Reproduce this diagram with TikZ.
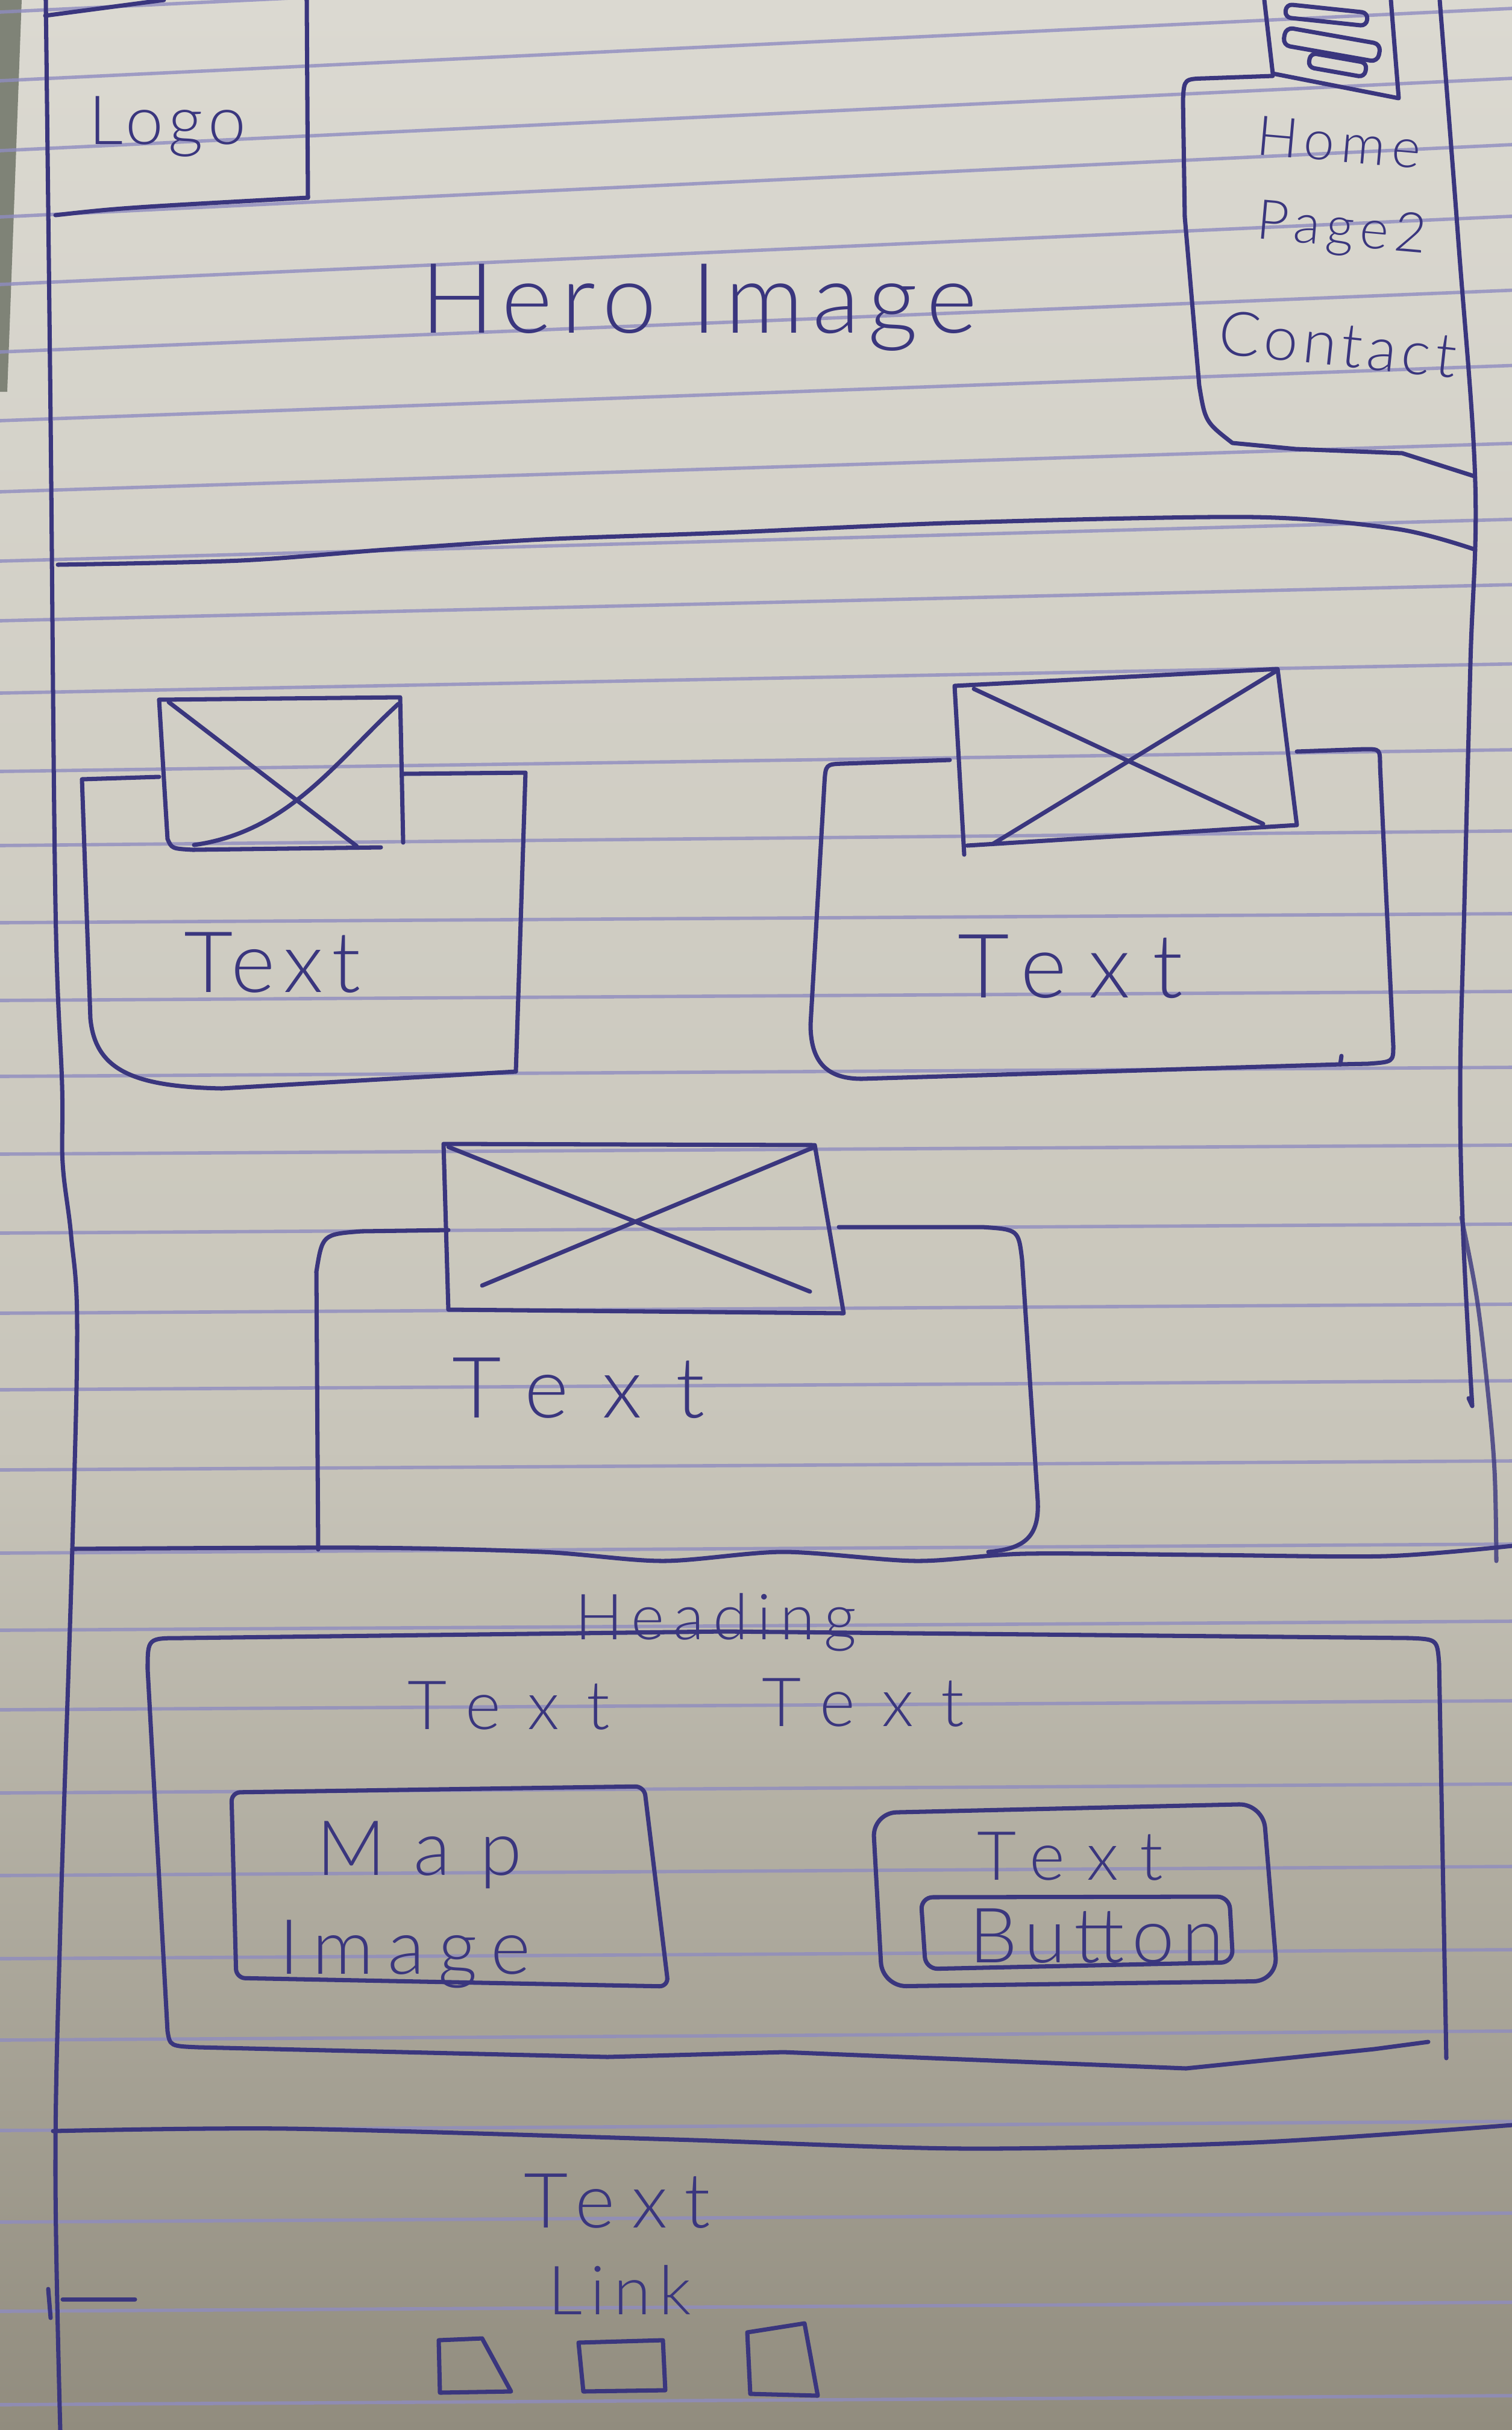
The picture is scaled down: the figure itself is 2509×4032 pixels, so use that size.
\documentclass[tikz,border=0pt]{standalone}
\usepackage{fontspec}
\setmainfont{Lato}[UprightFont={* Light}]
\definecolor{paperTop}{HTML}{DBD9D1}
\definecolor{paperMid}{HTML}{C8C5BA}
\definecolor{paperBot}{HTML}{918C7E}
\definecolor{deskc}{HTML}{7F8377}
\definecolor{rulec}{HTML}{8F8CC0}
\definecolor{inkc}{HTML}{3A367E}
\tikzset{
  ink/.style={draw=inkc, line width=2pt, line cap=round, line join=round},
  rule/.style={draw=rulec, line width=1.6pt, opacity=0.8},
  hand/.style={text=inkc, inner sep=0pt, font=\fontsize{#1}{#1}\selectfont},
  hand/.default=36
}
\newcommand{\ls}[1]{\addfontfeature{LetterSpace=#1}}
\begin{document}
\begin{tikzpicture}[x=0.01cm,y=-0.01cm]
\useasboundingbox (0,0) rectangle (2509,4032);
% paper, darker towards the bottom
\shade[top color=paperTop, bottom color=paperMid] (0,0) rectangle (2509,2401);
\shade[top color=paperMid, bottom color=paperBot] (0,2400) rectangle (2509,4032);
% desk showing past the sheet's edge
\fill[deskc] (0,0) -- (36,0) -- (12,650) -- (0,650) -- cycle;
% ruled lines of the notebook
\foreach \L in {20,134,250,360,472,584,698,816,931,1030,1150,1280,1403,1531,1660,1786,1915,2046,2179,2306,2439,2577,2705,2837,2975,3112,3250,3385,3535,3687,3835,3990}{
  \pgfmathsetmacro\d{min(120,15+105*max(0,(1500-\L)/1100))}
  \draw[rule] (0,\L) -- (2509,{\L-\d});
}
% page frame
\draw[ink] plot[smooth, tension=0.6] coordinates {(76,0) (84,700) (92,1500) (103,1800) (104,1930) (118,2050) (128,2200) (120,2570) (100,3200) (92,3600) (100,4032)};
\draw[ink] plot[smooth, tension=0.6] coordinates {(2389,0) (2420,400) (2448,800) (2440,1100) (2430,1500) (2423,1800) (2428,2050) (2443,2333)} -- (2437,2320);
\draw[ink, draw opacity=0.8] plot[smooth, tension=0.6] coordinates {(2425,2020) (2450,2150) (2468,2300) (2480,2440) (2483,2590)};

% ---- header ----
\draw[ink] (75,26) -- (272,0);
\draw[ink] (509,0) -- (511,328);
\draw[ink] (92,357) .. controls (200,345) .. (511,328);
\node[hand=32] (logo) at (278,210) {\ls{8}Logo};

% hamburger icon
\draw[ink] (2098,0) -- (2112,122) -- (2321,163) -- (2308,0);
\draw[ink, rounded corners=0.1cm, rotate around={-6:(2201,25)}] (2133,14) rectangle (2269,36);
\draw[ink, rounded corners=0.12cm, rotate around={-10:(2210,74)}] (2130,59) rectangle (2290,89);
\draw[ink, rounded corners=0.1cm, rotate around={-10:(2220,108)}] (2172,96) rectangle (2267,120);

% navigation menu
\draw[ink] (2112,126) -- (2000,130) .. controls (1965,131) .. (1963,165) -- (1966,360) -- (1990,640) .. controls (2000,700) .. (2045,735) -- (2150,745) -- (2327,752) -- (2446,790);
\node[hand=26, rotate=-5] (home) at (2222,236) {\ls{12}Home};
\node[hand=26, rotate=-5] (page2) at (2226,384) {\ls{11}Page2};
\node[hand=29, rotate=-6] (contact) at (2220,571) {\ls{8}Contact};

\node[hand=46] (hero) at (1160,510) {\ls{9}Hero Image};
\draw[ink] plot[smooth] coordinates {(96,937) (400,930) (640,912) (900,895) (1200,884) (1600,867) (2080,858) (2320,878) (2448,912)};

% ---- card 1 ----
\draw[ink] (264,1289) -- (136,1293) -- (150,1690) .. controls (158,1775) and (220,1803) .. (368,1806) -- (856,1778) -- (872,1282) -- (669,1284);
\draw[ink] (264,1161) -- (664,1157) -- (669,1398);
\draw[ink] (264,1161) -- (278,1392) .. controls (285,1408) .. (320,1410) -- (632,1406);
\draw[ink] (280,1165) -- (592,1404);
\draw[ink] (661,1168) .. controls (560,1260) and (480,1380) .. (322,1402);
\node[hand=40] (t1) at (452,1597) {\ls{10}Text};

% ---- card 2 ----
\draw[ink] (1576,1261) -- (1400,1267) .. controls (1370,1268) .. (1368,1300) -- (1345,1700) .. controls (1345,1770) and (1380,1790) .. (1430,1790) -- (2224,1766);
\draw[ink] (2152,1247) -- (2265,1243) .. controls (2290,1243) .. (2290,1270) -- (2312,1735) .. controls (2312,1762) .. (2270,1765) -- (2224,1766) -- (2226,1752);
\draw[ink] (1600,1418) -- (1584,1138) -- (2120,1110) -- (2152,1369) -- (1605,1403);
\draw[ink] (1616,1143) -- (2096,1367);
\draw[ink] (2120,1112) -- (1648,1400);
\node[hand=42] (t2) at (1776,1604) {\ls{25}Text};

% ---- card 3 ----
\draw[ink] (744,2041) -- (600,2043) .. controls (535,2048) .. (525,2110) -- (528,2571);
\draw[ink] (1392,2036) -- (1630,2036) .. controls (1690,2040) .. (1696,2090) -- (1722,2490) .. controls (1725,2550) and (1700,2570) .. (1640,2575);
\draw[ink] (744,2173) -- (736,1898) -- (1352,1900) -- (1400,2179) -- cycle;
\draw[ink] (744,1903) -- (1344,2143);
\draw[ink] (1352,1903) -- (800,2133);
\node[hand=40] (t3) at (960,2303) {\ls{40}Text};

\draw[ink] plot[smooth] coordinates {(120,2570) (600,2568) (900,2575) (1100,2590) (1300,2575) (1520,2590) (1700,2578) (2000,2580) (2300,2582) (2509,2565)};

% ---- contact section ----
\draw[ink] (300,2718) -- (1200,2707) -- (2340,2718) .. controls (2385,2720) .. (2388,2760) -- (2400,3415);
\draw[ink] (300,2718) .. controls (245,2718) .. (245,2770) -- (278,3370) .. controls (282,3395) .. (330,3397) -- (1008,3413) -- (1300,3405) -- (1968,3432) -- (2280,3400) -- (2370,3388);
\node[hand=30] (heading) at (1188,2692) {\ls{14}Heading};
\node[hand=32] (ta) at (844,2830) {\ls{40}Text};
\node[hand=32] (tb) at (1432,2825) {\ls{40}Text};

\draw[ink, rounded corners=0.15cm] (384,2974) -- (1069,2964) -- (1109,3296) -- (392,3282) -- cycle;
\node[hand=36] (map) at (696,3078) {\ls{38}Map};
\node[hand=36] (mapimg) at (672,3242) {\ls{18}Image};

\draw[ink, rounded corners=0.4cm] (1448,3008) -- (2096,2993) -- (2120,3287) -- (1464,3296) -- cycle;
\node[hand=32] (tc) at (1776,3080) {\ls{32}Text};
\draw[ink, rounded corners=0.2cm] (1528,3148) -- (2040,3147) -- (2046,3256) -- (1536,3267) -- cycle;
\node[hand=36] (button) at (1820,3212) {\ls{10}Button};

% ---- footer ----
\draw[ink] plot[smooth] coordinates {(88,3536) (480,3532) (1120,3550) (1600,3565) (2080,3555) (2509,3526)};
\node[hand=36] (ft) at (1024,3652) {\ls{22}Text};
\node[hand=32] (link) at (1028,3800) {\ls{12}Link};
\draw[ink] (104,3815) -- (224,3815);
\draw[ink] (80,3798) -- (84,3846);
\draw[ink] (728,3883) -- (800,3880) -- (848,3968) -- (730,3970) -- cycle;
\draw[ink] (960,3887) -- (1100,3883) -- (1104,3966) -- (968,3968) -- cycle;
\draw[ink] (1240,3870) -- (1335,3855) -- (1357,3975) -- (1245,3972) -- cycle;
\end{tikzpicture}
\end{document}
